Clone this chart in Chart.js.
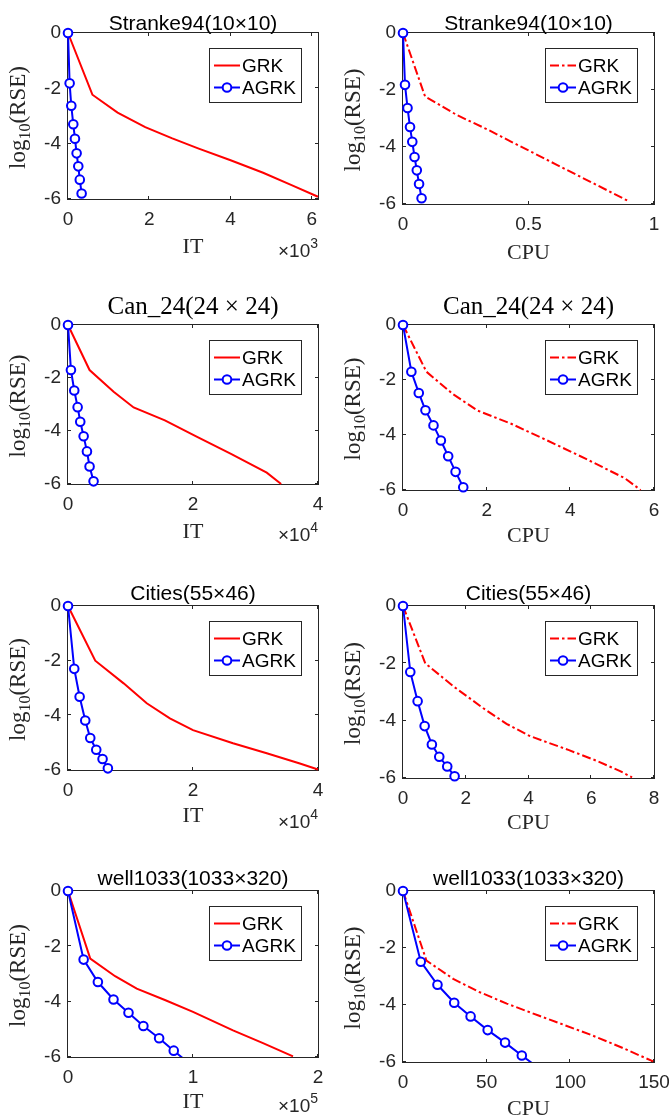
<!DOCTYPE html>
<html><head><meta charset="utf-8">
<script src="https://cdn.jsdelivr.net/npm/chart.js@4.4.1/dist/chart.umd.min.js"></script>
<style>
html,body{margin:0;padding:0;background:#fff;}
body{width:669px;height:1119px;position:relative;overflow:hidden;}
canvas{position:absolute;}
</style></head><body>
<script>
// ---------- DATA ----------
const yTicks = [-6, -4, -2, 0];

// Stranke94 (10x10)
const strankeGRK_RSE  = [0, -2.23, -2.88, -3.40, -3.80, -4.17, -4.60, -5.05, -5.50, -5.92];
const strankeGRK_IT   = [0, 0.60, 1.22, 1.90, 2.55, 3.20, 4.00, 4.80, 5.50, 6.15];
const strankeGRK_CPU  = [0, 0.088, 0.215, 0.34, 0.428, 0.511, 0.607, 0.708, 0.809, 0.903];
const strankeAGRK_RSE = [0, -1.82, -2.63, -3.30, -3.82, -4.35, -4.82, -5.30, -5.80];
const strankeAGRK_IT  = [0, 0.040, 0.081, 0.130, 0.171, 0.212, 0.253, 0.290, 0.335];
const strankeAGRK_CPU = [0, 0.008, 0.018, 0.028, 0.037, 0.046, 0.055, 0.064, 0.074];

// Can_24 (24x24)
const canGRK_RSE  = [0, -1.70, -2.52, -3.11, -3.60, -4.20, -4.85, -5.57, -6.00];
const canGRK_IT   = [0, 0.345, 0.73, 1.05, 1.55, 2.05, 2.60, 3.18, 3.41];
const canGRK_CPU  = [0, 0.56, 1.20, 1.78, 2.60, 3.45, 4.35, 5.30, 5.68];
const canAGRK_RSE = [0, -1.70, -2.47, -3.10, -3.65, -4.20, -4.77, -5.34, -5.90];
const canAGRK_IT  = [0, 0.047, 0.100, 0.154, 0.196, 0.250, 0.303, 0.345, 0.409];
const canAGRK_CPU = [0, 0.20, 0.377, 0.537, 0.729, 0.905, 1.08, 1.257, 1.44];

// Cities (55x46)
const citiesGRK_RSE  = [0, -2.00, -2.83, -3.56, -4.11, -4.54, -5.02, -5.39, -5.76, -5.98];
const citiesGRK_IT   = [0, 0.436, 0.89, 1.26, 1.63, 2.00, 2.64, 3.18, 3.71, 4.00];
const citiesGRK_CPU  = [0, 0.71, 1.64, 2.55, 3.30, 4.05, 5.27, 6.15, 6.92, 7.30];
const citiesAGRK_RSE = [0, -2.30, -3.32, -4.19, -4.83, -5.26, -5.60, -5.94];
const citiesAGRK_IT  = [0, 0.100, 0.186, 0.276, 0.356, 0.452, 0.553, 0.638];
const citiesAGRK_CPU = [0, 0.232, 0.466, 0.69, 0.92, 1.156, 1.41, 1.645];

// well1033 (1033x320)
const wellGRK_RSE  = [0, -2.44, -3.08, -3.53, -3.95, -4.37, -5.04, -5.50, -5.98];
const wellGRK_IT   = [0, 0.178, 0.377, 0.55, 0.78, 1.00, 1.32, 1.56, 1.80];
const wellGRK_CPU  = [0, 14, 30, 45, 62, 81, 112, 131, 149.5];
const wellAGRK_RSE = [0, -2.48, -3.29, -3.92, -4.40, -4.88, -5.32, -5.77, -6.21];
const wellAGRK_IT  = [0, 0.125, 0.239, 0.364, 0.484, 0.603, 0.729, 0.846, 0.963];
const wellAGRK_CPU = [0, 10.6, 20.6, 30.6, 40.4, 50.6, 61, 71, 81];

// tick labels per x axis
const xTicksStrankeIT  = [0, 2, 4, 6];
const xTicksStrankeCPU = [0, 0.5, 1];
const xTicksCanIT      = [0, 2, 4];
const xTicksCanCPU     = [0, 2, 4, 6];
const xTicksCitiesIT   = [0, 2, 4];
const xTicksCitiesCPU  = [0, 2, 4, 6, 8];
const xTicksWellIT     = [0, 1, 2];
const xTicksWellCPU    = [0, 50, 100, 150];

const titles = ['Stranke94(10×10)', 'Can_24(24 × 24)', 'Cities(55×46)', 'well1033(1033×320)'];

// ---------- PANEL SETUP ----------
const panels = [
  {title: titles[0], serifTitle: false, xl: 'IT',  exp: '3', max: 6.15, ticks: xTicksStrankeIT,  gx: strankeGRK_IT,  gy: strankeGRK_RSE, ax: strankeAGRK_IT,  ay: strankeAGRK_RSE, dash: false,
   cell: [0, 0, 335, 280],   plot: [68, 33, 318, 199],   titleY: 30,  xlY: 252.5, expY: 257},
  {title: titles[0], serifTitle: false, xl: 'CPU', exp: null, max: 1,   ticks: xTicksStrankeCPU, gx: strankeGRK_CPU, gy: strankeGRK_RSE, ax: strankeAGRK_CPU, ay: strankeAGRK_RSE, dash: true,
   cell: [335, 0, 334, 280], plot: [403, 33, 654, 204],  titleY: 30,  xlY: 259, expY: 0},
  {title: titles[1], serifTitle: true, xl: 'IT',  exp: '4', max: 4,    ticks: xTicksCanIT,  gx: canGRK_IT,  gy: canGRK_RSE, ax: canAGRK_IT,  ay: canAGRK_RSE, dash: false,
   cell: [0, 280, 335, 290],   plot: [68, 325, 318, 484],   titleY: 313.5, xlY: 538, expY: 541},
  {title: titles[1], serifTitle: true, xl: 'CPU', exp: null, max: 6,   ticks: xTicksCanCPU, gx: canGRK_CPU, gy: canGRK_RSE, ax: canAGRK_CPU, ay: canAGRK_RSE, dash: true,
   cell: [335, 280, 334, 290], plot: [403, 325, 654, 490],  titleY: 313.5, xlY: 541.5, expY: 0},
  {title: titles[2], serifTitle: false, xl: 'IT',  exp: '4', max: 4,   ticks: xTicksCitiesIT,  gx: citiesGRK_IT,  gy: citiesGRK_RSE, ax: citiesAGRK_IT,  ay: citiesAGRK_RSE, dash: false,
   cell: [0, 570, 335, 280],   plot: [68, 606, 318, 770],   titleY: 600, xlY: 821.5, expY: 828},
  {title: titles[2], serifTitle: false, xl: 'CPU', exp: null, max: 8,  ticks: xTicksCitiesCPU, gx: citiesGRK_CPU, gy: citiesGRK_RSE, ax: citiesAGRK_CPU, ay: citiesAGRK_RSE, dash: true,
   cell: [335, 570, 334, 280], plot: [403, 606, 654, 778],  titleY: 600, xlY: 829, expY: 0},
  {title: titles[3], serifTitle: false, xl: 'IT',  exp: '5', max: 2,   ticks: xTicksWellIT,  gx: wellGRK_IT,  gy: wellGRK_RSE, ax: wellAGRK_IT,  ay: wellAGRK_RSE, dash: false,
   cell: [0, 850, 335, 269],   plot: [68, 891, 318, 1057],  titleY: 885, xlY: 1108, expY: 1111.5},
  {title: titles[3], serifTitle: false, xl: 'CPU', exp: null, max: 150, ticks: xTicksWellCPU, gx: wellGRK_CPU, gy: wellGRK_RSE, ax: wellAGRK_CPU, ay: wellAGRK_RSE, dash: true,
   cell: [335, 850, 334, 269], plot: [403, 891, 654, 1062], titleY: 885, xlY: 1115, expY: 0},
];

const SANS = '"Liberation Sans", Arial, Helvetica, sans-serif';
const SERIF = '"Liberation Serif", "Times New Roman", serif';
const AX = '#262626';
const RED = '#FF0000', BLUE = '#0000FF';
const DASHDOT = [9, 3, 2.5, 3];

function pts(xs, ys) { return xs.map((x, i) => ({x: x, y: ys[i]})); }

const deco = {
  id: 'deco',
  beforeDatasetsDraw(chart, args, o) {
    const ctx = chart.ctx, a = chart.chartArea;
    const xs = chart.scales.x, ys = chart.scales.y;
    ctx.save();
    ctx.strokeStyle = AX; ctx.lineWidth = 1;
    ctx.strokeRect(a.left - 0.5, a.top - 0.5, a.right - a.left + 1, a.bottom - a.top + 1);
    ctx.beginPath();
    const tl = 3;
    xs.ticks.forEach(t => {
      const p = Math.round(xs.getPixelForValue(t.value)) - 0.5;
      ctx.moveTo(p, a.bottom); ctx.lineTo(p, a.bottom - tl);
      ctx.moveTo(p, a.top); ctx.lineTo(p, a.top + tl);
    });
    ys.ticks.forEach(t => {
      const p = Math.round(ys.getPixelForValue(t.value)) - 0.5;
      ctx.moveTo(a.left, p); ctx.lineTo(a.left + tl, p);
      ctx.moveTo(a.right, p); ctx.lineTo(a.right - tl, p);
    });
    ctx.stroke();
    ctx.restore();
  },
  afterDraw(chart, args, o) {
    const ctx = chart.ctx, a = chart.chartArea;
    const cx = (a.left + a.right) / 2;
    ctx.save();
    ctx.fillStyle = '#000';
    ctx.textAlign = 'center'; ctx.textBaseline = 'alphabetic';
    // title
    ctx.font = o.serifTitle ? ('25px ' + SERIF) : ('21px ' + SANS);
    ctx.fillText(o.title, cx, o.titleY);
    // x label
    ctx.fillStyle = AX;
    ctx.font = '22px ' + SERIF;
    ctx.fillText(o.xl, cx, o.xlY);
    // exponent
    if (o.exp) {
      ctx.textAlign = 'left';
      ctx.font = '19px ' + SANS; const w1 = ctx.measureText('×10').width;
      ctx.font = '14px ' + SANS; const w2 = ctx.measureText(o.exp).width;
      const x0 = a.right - w1 - w2;
      ctx.font = '19px ' + SANS; ctx.fillText('×10', x0, o.expY);
      ctx.font = '14px ' + SANS; ctx.fillText(o.exp, x0 + w1, o.expY - 9);
    }
    // y label
    ctx.save();
    ctx.translate(a.left - 43, (a.top + a.bottom) / 2 + 1.5);
    ctx.rotate(-Math.PI / 2);
    ctx.textAlign = 'left';
    const f1 = '23px ' + SERIF, f2 = '16px ' + SERIF;
    ctx.font = f1; const l1 = ctx.measureText('log').width, l3 = ctx.measureText('(RSE)').width;
    ctx.font = f2; const l2 = ctx.measureText('10').width;
    let x = -(l1 + l2 + l3) / 2;
    ctx.font = f1; ctx.fillText('log', x, 0); x += l1;
    ctx.font = f2; ctx.fillText('10', x, 5); x += l2;
    ctx.font = f1; ctx.fillText('(RSE)', x, 0);
    ctx.restore();
    // legend
    const bw = 92, bh = 54;
    const bx = Math.round(a.right - 17 - bw), by = Math.round(a.top + 15);
    ctx.fillStyle = '#fff'; ctx.fillRect(bx, by, bw, bh);
    ctx.strokeStyle = AX; ctx.lineWidth = 1; ctx.strokeRect(bx + 0.5, by + 0.5, bw, bh);
    const dsets = chart.data.datasets;
    const g = dsets.find(d => d.label === 'GRK');
    const ag = dsets.find(d => d.label === 'AGRK');
    const mk = dsets.find(d => d.label === 'AGRK markers');
    const rows = [{d: g, y: by + 17.5, m: null}, {d: ag, y: by + 39.5, m: mk}];
    rows.forEach(r => {
      ctx.save();
      ctx.strokeStyle = r.d.borderColor; ctx.lineWidth = r.d.borderWidth;
      ctx.setLineDash(r.d.borderDash || []);
      ctx.beginPath(); ctx.moveTo(bx + 5, r.y); ctx.lineTo(bx + 31, r.y); ctx.stroke();
      ctx.setLineDash([]);
      if (r.m) {
        ctx.beginPath(); ctx.arc(bx + 18, r.y, 4.3, 0, Math.PI * 2);
        ctx.fillStyle = r.m.pointBackgroundColor; ctx.fill();
        ctx.lineWidth = r.m.pointBorderWidth; ctx.strokeStyle = r.m.pointBorderColor; ctx.stroke();
      }
      ctx.fillStyle = '#000'; ctx.font = '19px ' + SANS; ctx.textAlign = 'left';
      ctx.fillText(r.d.label, bx + 33, r.y + 6.8);
      ctx.restore();
    });
    ctx.restore();
  }
};

panels.forEach(p => {
  const [cX, cY, cW, cH] = p.cell;
  const [L, T, R, B] = p.plot;
  const cv = document.createElement('canvas');
  cv.width = cW; cv.height = cH;
  cv.style.left = cX + 'px'; cv.style.top = cY + 'px';
  cv.style.width = cW + 'px'; cv.style.height = cH + 'px';
  document.body.appendChild(cv);
  const yMin = -6;
  const leftW = L - cX, bottomH = cY + cH - B;
  new Chart(cv, {
    type: 'line',
    data: {
      datasets: [
        {label: 'AGRK markers', data: pts(p.ax, p.ay), showLine: false,
         pointStyle: 'circle', pointRadius: c => (c.raw && c.raw.y >= yMin) ? 4.3 : 0,
         pointBorderWidth: 2, pointBorderColor: BLUE, pointBackgroundColor: '#fff', clip: false},
        {label: 'AGRK', data: pts(p.ax, p.ay), borderColor: BLUE, borderWidth: 2, pointRadius: 0,
         tension: 0, fill: false, clip: {left: 2, top: 2, right: 2, bottom: 0}},
        {label: 'GRK', data: pts(p.gx, p.gy), borderColor: RED, borderWidth: 2, pointRadius: 0,
         borderDash: p.dash ? DASHDOT : [], tension: 0, fill: false, clip: 1},
      ]
    },
    options: {
      responsive: false, animation: false, devicePixelRatio: 1, events: [],
      layout: {padding: {left: 0, top: T - cY, right: cX + cW - R, bottom: 0}},
      plugins: {
        legend: {display: false}, tooltip: {enabled: false}, title: {display: false},
        deco: {title: p.title, serifTitle: p.serifTitle, xl: p.xl, exp: p.exp,
               titleY: p.titleY - cY, xlY: p.xlY - cY, expY: p.expY - cY}
      },
      scales: {
        x: {
          type: 'linear', min: 0, max: p.max,
          grid: {display: false, drawTicks: false}, border: {display: false},
          afterBuildTicks: s => { s.ticks = p.ticks.map(v => ({value: v})); },
          afterFit: s => { s.height = bottomH; s.paddingLeft = 0; s.paddingRight = 0; s.paddingTop = 0; s.paddingBottom = 0; },
          ticks: {autoSkip: false, maxRotation: 0, minRotation: 0, padding: 9, color: AX,
                  font: {family: SANS, size: 19}, callback: v => String(v)}
        },
        y: {
          type: 'linear', min: -6, max: 0,
          grid: {display: false, drawTicks: false}, border: {display: false},
          afterBuildTicks: s => { s.ticks = yTicks.map(v => ({value: v})); },
          afterFit: s => { s.width = leftW; s.paddingLeft = 0; s.paddingRight = 0; s.paddingTop = 0; s.paddingBottom = 0; },
          ticks: {autoSkip: false, padding: 7, color: AX,
                  font: {family: SANS, size: 19}, callback: v => String(v)}
        }
      }
    },
    plugins: [deco]
  });
});
</script>
</body></html>
